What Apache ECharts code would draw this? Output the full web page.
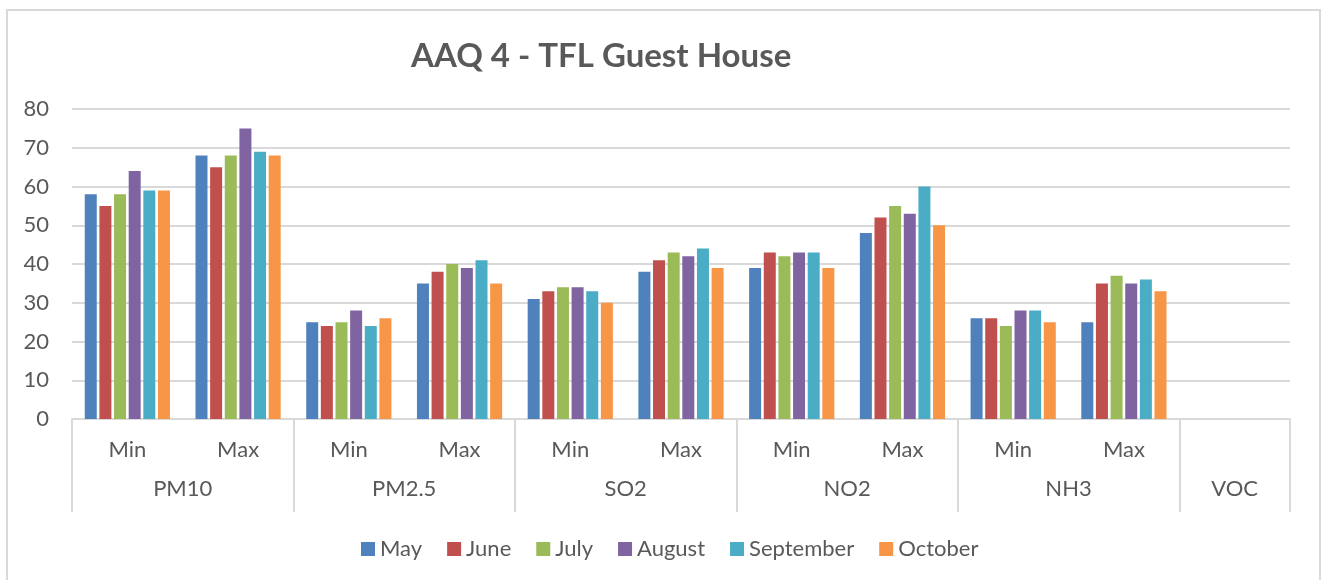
<!DOCTYPE html>
<html>
<head>
<meta charset="utf-8">
<title>AAQ 4 - TFL Guest House</title>
<style>
  html, body { margin: 0; padding: 0; background: #fff; }
  #chart { position: absolute; left: 0; top: 0; width: 1321px; height: 580px; }
  #frame { position: absolute; left: 6px; top: 9px; width: 1311px; height: 600px;
           border: 2px solid #d9d9d9; pointer-events: none; }
</style>
</head>
<body>
<div id="chart"></div>
<div id="frame"></div>
<script src="https://cdn.jsdelivr.net/npm/echarts@6/dist/echarts.min.js"></script>
<script>
    // sub categories (Min / Max per pollutant, VOC has a single empty slot)
    var subCats = ['Min', 'Max', 'Min', 'Max', 'Min', 'Max', 'Min', 'Max', 'Min', 'Max', ''];
    var groups = ['PM10', 'PM2.5', 'SO2', 'NO2', 'NH3', 'VOC'];
    var groupSize = [2, 2, 2, 2, 2, 1];
    var months = ['May', 'June', 'July', 'August', 'September', 'October'];
    var colors = ['#4f81bd', '#c0504d', '#9bbb59', '#8064a2', '#4bacc6', '#f79646'];

    var may       = [58, 68, 25, 35, 31, 38, 39, 48, 26, 25, null];
    var june      = [55, 65, 24, 38, 33, 41, 43, 52, 26, 35, null];
    var july      = [58, 68, 25, 40, 34, 43, 42, 55, 24, 37, null];
    var august    = [64, 75, 28, 39, 34, 42, 43, 53, 28, 35, null];
    var september = [59, 69, 24, 41, 33, 44, 43, 60, 28, 36, null];
    var october   = [59, 68, 26, 35, 30, 39, 39, 50, 25, 33, null];

    var yTicks = { min: 0, max: 80, step: 10 };

    var allData = [may, june, july, august, september, october];
    var font = 'Lato, "Open Sans", sans-serif';
    var textColor = '#595959';
    var lineColor = '#d9d9d9';

    // group axis built on half-slot points: labels at group centres, ticks at group edges
    var halfPts = [], tickAt = {}, labelAt = {};
    var pos = 0;
    tickAt[0] = true;
    for (var g = 0; g < groups.length; g++) {
        labelAt[pos + groupSize[g]] = groups[g];
        pos += groupSize[g] * 2;
        tickAt[pos] = true;
    }
    for (var i = 0; i <= pos; i++) halfPts.push(labelAt[i] || '');

    var myChart = echarts.init(document.getElementById('chart'));

    var series = months.map(function (m, k) {
        return {
            name: m,
            type: 'bar',
            xAxisIndex: 0,
            barWidth: 12,
            barGap: '22%',
            itemStyle: { color: colors[k] },
            data: allData[k]
        };
    });

    var option = {
        animation: false,
        color: colors,
        title: {
            text: 'AAQ 4 - TFL Guest House',
            left: 406,
            top: 35,
            textStyle: { fontFamily: font, fontWeight: 'bold', fontSize: 33, color: textColor }
        },
        legend: {
            data: months,
            top: 533,
            left: 356,
            icon: 'rect',
            itemWidth: 14,
            itemHeight: 14,
            itemGap: 25,
            textStyle: { fontFamily: font, fontSize: 22, color: textColor }
        },
        grid: { left: 72, right: 31, top: 109, bottom: 161, containLabel: false },
        xAxis: [{
            type: 'category',
            data: subCats,
            position: 'bottom',
            axisLine: { lineStyle: { color: lineColor, width: 2 } },
            axisTick: { show: false },
            axisLabel: { interval: 0, margin: 20, fontFamily: font, fontSize: 22, color: textColor }
        }, {
            type: 'category',
            data: halfPts,
            position: 'bottom',
            boundaryGap: false,
            axisLine: { show: false },
            axisTick: {
                show: true,
                length: 93,
                interval: function (idx) { return !!tickAt[idx]; },
                lineStyle: { color: lineColor, width: 2 }
            },
            axisLabel: { interval: 0, margin: 59, fontFamily: font, fontSize: 22, color: textColor },
            splitLine: { show: false }
        }],
        yAxis: {
            type: 'value',
            min: yTicks.min,
            max: yTicks.max,
            interval: yTicks.step,
            axisLine: { show: false },
            axisTick: { show: false },
            axisLabel: { margin: 23, fontFamily: font, fontSize: 22, color: textColor },
            splitLine: { lineStyle: { color: lineColor, width: 2 } }
        },
        series: series
    };

    myChart.setOption(option);
</script>
</body>
</html>
